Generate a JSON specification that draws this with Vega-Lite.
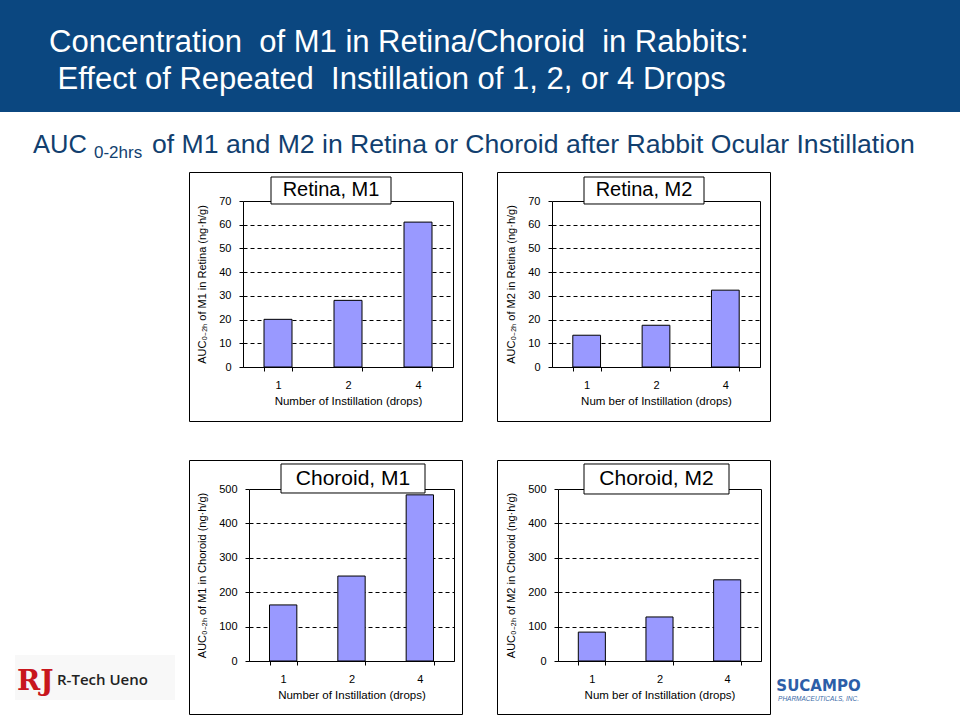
{
  "$schema": "https://vega.github.io/schema/vega-lite/v6.json",
  "padding": 0,
  "background": "white",
  "spacing": 0,
  "bounds": "full",
  "datasets": {
    "auc": [
      {"tissue": "Retina", "metabolite": "M1", "drops": "1", "auc": 20.1},
      {"tissue": "Retina", "metabolite": "M1", "drops": "2", "auc": 28.1},
      {"tissue": "Retina", "metabolite": "M1", "drops": "4", "auc": 61.1},
      {"tissue": "Retina", "metabolite": "M2", "drops": "1", "auc": 13.4},
      {"tissue": "Retina", "metabolite": "M2", "drops": "2", "auc": 17.6},
      {"tissue": "Retina", "metabolite": "M2", "drops": "4", "auc": 32.4},
      {"tissue": "Choroid", "metabolite": "M1", "drops": "1", "auc": 163},
      {"tissue": "Choroid", "metabolite": "M1", "drops": "2", "auc": 247},
      {"tissue": "Choroid", "metabolite": "M1", "drops": "4", "auc": 483},
      {"tissue": "Choroid", "metabolite": "M2", "drops": "1", "auc": 84},
      {"tissue": "Choroid", "metabolite": "M2", "drops": "2", "auc": 128},
      {"tissue": "Choroid", "metabolite": "M2", "drops": "4", "auc": 236}
    ]
  },
  "config": {
    "view": {"stroke": null},
    "font": "Liberation Sans",
    "axis": {"labelFont": "Liberation Sans", "labelFontSize": 11, "labelColor": "black", "titleFont": "Liberation Sans", "titleFontWeight": "normal", "titleColor": "black", "domainColor": "black", "domainWidth": 1, "tickColor": "black", "tickSize": 4, "labelPadding": 8, "gridColor": "black", "gridWidth": 1, "gridOpacity": 1},
    "axisX": {"titleFontSize": 11.5, "titlePadding": 5, "labelAngle": 0},
    "axisY": {"titleFontSize": 11, "titlePadding": 11.5},
    "title": {"frame": "group", "anchor": "start", "fontWeight": "normal"}
  },
  "vconcat": [
    {
      "width": 960, "height": 112,
      "view": {"fill": "#0b4780", "stroke": null},
      "data": {"values": []},
      "mark": "point",
      "title": {"text": ["Concentration\u00a0 of M1 in Retina/Choroid\u00a0 in Rabbits:", "\u200b\u00a0Effect of Repeated\u00a0 Instillation of 1, 2, or 4 Drops"], "color": "white", "fontSize": 31, "lineHeight": 37, "dx": 49, "offset": -96, "font": "Liberation Sans"}
    },
    {
      "hconcat": [
        {"width": 92, "height": 59, "data": {"values": []}, "mark": "point",
         "title": {"text": "AUC", "color": "#123f6f", "fontSize": 25.5, "dx": 33, "offset": -46.5}},
        {"width": 58, "height": 59, "data": {"values": []}, "mark": "point",
         "title": {"text": "0-2hrs", "color": "#123f6f", "fontSize": 17, "dx": 2, "offset": -49.6}},
        {"width": 810, "height": 59, "data": {"values": []}, "mark": "point",
         "title": {"text": "of M1 and M2 in Retina or Choroid after Rabbit Ocular Instillation", "color": "#123f6f", "fontSize": 26.6, "dx": 2, "offset": -46.5}}
      ],
      "spacing": 0, "bounds": "flush"
    },
    {
      "vconcat": [
        {
          "hconcat": [
            {"width": 189, "height": 249, "data": {"values": []}, "mark": "point"},
            {
              "width": 273, "height": 249,
              "view": {"stroke": "black", "strokeWidth": 1, "fill": "white"},
              "resolve": {"axis": {"y": "independent"}},
              "layer": [
                {
                  "data": {"name": "auc"},
                  "transform": [{"filter": "datum.tissue == 'Retina' && datum.metabolite == 'M1'"}],
                  "mark": {"type": "bar", "fill": "#9999ff", "stroke": "black", "strokeWidth": 1},
                  "encoding": {
                    "x": {"field": "drops", "type": "ordinal", "scale": {"domain": ["1", "2", "4"], "range": [54, 264], "paddingInner": 0.6, "paddingOuter": 0.3},
                          "axis": {"orient": "bottom", "offset": -54, "tickBand": "extent", "title": "Number of Instillation (drops)"}},
                    "y": {"field": "auc", "type": "quantitative", "scale": {"domain": [0, 70], "range": [195, 29], "nice": false},
                          "axis": {"orient": "left", "offset": -54, "values": [0, 10, 20, 30, 40, 50, 60, 70], "grid": true,
                                   "gridDash": {"condition": {"test": "datum.value === 0 || datum.value === 70", "value": []}, "value": [4, 3]},
                                   "title": "AUC\u2080\u208b\u2082\u2095 of M1 in Retina (ng\u00b7h/g)"}}
                  }
                },
                {
                  "data": {"values": [{"panel": "Retina, M1"}]},
                  "mark": {"type": "rect", "fill": "white", "stroke": "black", "strokeWidth": 1, "width": 120, "xOffset": -17},
                  "encoding": {
                    "x": {"datum": "2", "type": "ordinal"},
                    "y": {"datum": 80.12, "type": "quantitative", "axis": {"orient": "right", "offset": -9, "labels": false, "ticks": false, "grid": false, "title": null}},
                    "y2": {"datum": 68.74}
                  }
                },
                {
                  "data": {"values": [{"panel": "Retina, M1"}]},
                  "mark": {"type": "text", "fontSize": 20, "color": "black", "xOffset": -17, "baseline": "middle", "align": "center"},
                  "encoding": {
                    "x": {"datum": "2", "type": "ordinal"},
                    "y": {"datum": 74.43, "type": "quantitative", "axis": null},
                    "text": {"field": "panel"}
                  }
                }
              ]
            },
            {"width": 35, "height": 249, "data": {"values": []}, "mark": "point"},
            {
              "width": 273, "height": 249,
              "view": {"stroke": "black", "strokeWidth": 1, "fill": "white"},
              "resolve": {"axis": {"y": "independent"}},
              "layer": [
                {
                  "data": {"name": "auc"},
                  "transform": [{"filter": "datum.tissue == 'Retina' && datum.metabolite == 'M2'"}],
                  "mark": {"type": "bar", "fill": "#9999ff", "stroke": "black", "strokeWidth": 1},
                  "encoding": {
                    "x": {"field": "drops", "type": "ordinal", "scale": {"domain": ["1", "2", "4"], "range": [55, 263], "paddingInner": 0.6, "paddingOuter": 0.3},
                          "axis": {"orient": "bottom", "offset": -54, "tickBand": "extent", "title": "Num ber of Instillation (drops)"}},
                    "y": {"field": "auc", "type": "quantitative", "scale": {"domain": [0, 70], "range": [195, 29], "nice": false},
                          "axis": {"orient": "left", "offset": -55, "values": [0, 10, 20, 30, 40, 50, 60, 70], "grid": true,
                                   "gridDash": {"condition": {"test": "datum.value === 0 || datum.value === 70", "value": []}, "value": [4, 3]},
                                   "title": "AUC\u2080\u208b\u2082\u2095 of M2 in Retina (ng\u00b7h/g)"}}
                  }
                },
                {
                  "data": {"values": [{"panel": "Retina, M2"}]},
                  "mark": {"type": "rect", "fill": "white", "stroke": "black", "strokeWidth": 1, "width": 120, "xOffset": -12},
                  "encoding": {
                    "x": {"datum": "2", "type": "ordinal"},
                    "y": {"datum": 80.12, "type": "quantitative", "axis": {"orient": "right", "offset": -10, "labels": false, "ticks": false, "grid": false, "title": null}},
                    "y2": {"datum": 68.74}
                  }
                },
                {
                  "data": {"values": [{"panel": "Retina, M2"}]},
                  "mark": {"type": "text", "fontSize": 20, "color": "black", "xOffset": -12, "baseline": "middle", "align": "center"},
                  "encoding": {
                    "x": {"datum": "2", "type": "ordinal"},
                    "y": {"datum": 74.43, "type": "quantitative", "axis": null},
                    "text": {"field": "panel"}
                  }
                }
              ]
            },
            {"width": 190, "height": 249, "data": {"values": []}, "mark": "point"}
          ],
          "spacing": 0, "bounds": "flush"
        },
        {
          "hconcat": [
            {
              "vconcat": [
                {"width": 188, "height": 195, "data": {"values": []}, "mark": "point"},
                {
                  "hconcat": [
                    {"width": 15, "height": 45, "data": {"values": []}, "mark": "point"},
                    {"width": 38, "height": 45, "data": {"values": []}, "mark": "point", "view": {"fill": "#f8f8f8", "stroke": null},
                     "title": {"text": "RJ", "color": "#c8161d", "font": "DejaVu Serif", "fontWeight": "bold", "fontSize": 28, "dx": 2, "offset": -41}},
                    {"width": 122, "height": 45, "data": {"values": []}, "mark": "point", "view": {"fill": "#f8f8f8", "stroke": null},
                     "title": {"text": "R-Tech Ueno", "color": "#222222", "font": "Open Sans", "fontWeight": 600, "fontSize": 15, "dx": 4, "offset": -33}},
                    {"width": 13, "height": 45, "data": {"values": []}, "mark": "point"}
                  ],
                  "spacing": 0, "bounds": "flush"
                }
              ],
              "spacing": 0, "bounds": "full"
            },
            {
              "width": 273, "height": 254,
              "view": {"stroke": "black", "strokeWidth": 1, "fill": "white"},
              "resolve": {"axis": {"y": "independent"}},
              "layer": [
                {
                  "data": {"name": "auc"},
                  "transform": [{"filter": "datum.tissue == 'Choroid' && datum.metabolite == 'M1'"}],
                  "mark": {"type": "bar", "fill": "#9999ff", "stroke": "black", "strokeWidth": 1},
                  "encoding": {
                    "x": {"field": "drops", "type": "ordinal", "scale": {"domain": ["1", "2", "4"], "range": [60, 265], "paddingInner": 0.6, "paddingOuter": 0.3},
                          "axis": {"orient": "bottom", "offset": -53, "tickBand": "extent", "title": "Number of Instillation (drops)"}},
                    "y": {"field": "auc", "type": "quantitative", "scale": {"domain": [0, 500], "range": [201, 29], "nice": false},
                          "axis": {"orient": "left", "offset": -60, "values": [0, 100, 200, 300, 400, 500], "grid": true,
                                   "gridDash": {"condition": {"test": "datum.value === 0 || datum.value === 500", "value": []}, "value": [4, 3]},
                                   "title": "AUC\u2080\u208b\u2082\u2095 of M1 in Choroid (ng\u00b7h/g)"}}
                  }
                },
                {
                  "data": {"values": [{"panel": "Choroid, M1"}]},
                  "mark": {"type": "rect", "fill": "white", "stroke": "black", "strokeWidth": 1, "width": 144, "xOffset": 1.5},
                  "encoding": {
                    "x": {"datum": "2", "type": "ordinal"},
                    "y": {"datum": 572.7, "type": "quantitative", "axis": {"orient": "right", "offset": -8, "labels": false, "ticks": false, "grid": false, "title": null}},
                    "y2": {"datum": 488.4}
                  }
                },
                {
                  "data": {"values": [{"panel": "Choroid, M1"}]},
                  "mark": {"type": "text", "fontSize": 21, "color": "black", "xOffset": 1.5, "baseline": "middle", "align": "center"},
                  "encoding": {
                    "x": {"datum": "2", "type": "ordinal"},
                    "y": {"datum": 530.5, "type": "quantitative", "axis": null},
                    "text": {"field": "panel"}
                  }
                }
              ]
            },
            {"width": 33, "height": 254, "data": {"values": []}, "mark": "point"},
            {
              "width": 273, "height": 254,
              "view": {"stroke": "black", "strokeWidth": 1, "fill": "white"},
              "resolve": {"axis": {"y": "independent"}},
              "layer": [
                {
                  "data": {"name": "auc"},
                  "transform": [{"filter": "datum.tissue == 'Choroid' && datum.metabolite == 'M2'"}],
                  "mark": {"type": "bar", "fill": "#9999ff", "stroke": "black", "strokeWidth": 1},
                  "encoding": {
                    "x": {"field": "drops", "type": "ordinal", "scale": {"domain": ["1", "2", "4"], "range": [61, 264], "paddingInner": 0.6, "paddingOuter": 0.3},
                          "axis": {"orient": "bottom", "offset": -53, "tickBand": "extent", "title": "Num ber of Instillation (drops)"}},
                    "y": {"field": "auc", "type": "quantitative", "scale": {"domain": [0, 500], "range": [201, 29], "nice": false},
                          "axis": {"orient": "left", "offset": -61, "values": [0, 100, 200, 300, 400, 500], "grid": true,
                                   "gridDash": {"condition": {"test": "datum.value === 0 || datum.value === 500", "value": []}, "value": [4, 3]},
                                   "title": "AUC\u2080\u208b\u2082\u2095 of M2 in Choroid (ng\u00b7h/g)"}}
                  }
                },
                {
                  "data": {"values": [{"panel": "Choroid, M2"}]},
                  "mark": {"type": "rect", "fill": "white", "stroke": "black", "strokeWidth": 1, "width": 145, "xOffset": -3},
                  "encoding": {
                    "x": {"datum": "2", "type": "ordinal"},
                    "y": {"datum": 572.7, "type": "quantitative", "axis": {"orient": "right", "offset": -9, "labels": false, "ticks": false, "grid": false, "title": null}},
                    "y2": {"datum": 485.5}
                  }
                },
                {
                  "data": {"values": [{"panel": "Choroid, M2"}]},
                  "mark": {"type": "text", "fontSize": 21, "color": "black", "xOffset": -3, "baseline": "middle", "align": "center"},
                  "encoding": {
                    "x": {"datum": "2", "type": "ordinal"},
                    "y": {"datum": 529, "type": "quantitative", "axis": null},
                    "text": {"field": "panel"}
                  }
                }
              ]
            },
            {"width": 190, "height": 254, "data": {"values": []}, "mark": "point",
             "title": {"text": "SUCAMPO", "subtitle": "PHARMACEUTICALS, INC.", "anchor": "middle", "dx": -47.5, "offset": -242, "color": "#2c5ea8", "font": "DejaVu Sans", "fontSize": 15, "fontWeight": "bold", "subtitleColor": "#3a6aa8", "subtitleFont": "Liberation Sans", "subtitleFontSize": 6.5, "subtitleFontStyle": "italic", "subtitlePadding": 2}}
          ],
          "spacing": 0, "bounds": "full"
        }
      ],
      "spacing": 37, "bounds": "full"
    }
  ]
}
